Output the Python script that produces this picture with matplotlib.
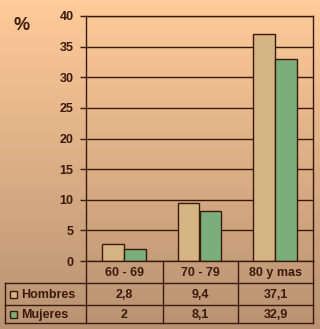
import numpy as np
import matplotlib.pyplot as plt
from matplotlib.patches import Rectangle

categories = ['60 - 69', '70 - 79', '80 y mas']
series_names = ['Hombres', 'Mujeres']
hombres = [2.8, 9.4, 37.1]
mujeres = [2.0, 8.1, 32.9]
yticks = [0, 5, 10, 15, 20, 25, 30, 35, 40]

colors = ['#D6B584', '#7BAE7A']
dark = '#3A1A0C'
W, H = 320, 329

plt.rcParams['font.family'] = ['Liberation Sans', 'DejaVu Sans']
fig = plt.figure(figsize=(W / 100, H / 100), dpi=100)

# gradient background
bg = fig.add_axes([0, 0, 1, 1])
top = np.array([0xFF, 0xCB, 0x99]) / 255
bot = np.array([0xB8, 0x92, 0x72]) / 255
t = np.linspace(0, 1, 256)[:, None]
grad = (top[None, :] * (1 - t) + bot[None, :] * t)[:, None, :]
bg.imshow(grad, aspect='auto', extent=[0, 1, 0, 1])
bg.set_axis_off()

# plot area in pixels
L, R, T, B = 86, 313, 16, 261
ax = fig.add_axes([L / W, (H - B) / H, (R - L) / W, (B - T) / H])
ax.set_facecolor('none')
x = np.arange(len(categories))
bw = 0.29
ax.bar(x - bw / 2, hombres, bw, color=colors[0], edgecolor=dark, linewidth=1, zorder=3)
ax.bar(x + bw / 2, mujeres, bw, color=colors[1], edgecolor=dark, linewidth=1, zorder=3)
ax.set_xlim(-0.5, len(categories) - 0.5)
ax.set_ylim(0, 40)
ax.set_yticks(yticks)
ax.set_yticklabels([str(v) for v in yticks], fontsize=9, fontweight='bold', color=dark)
ax.tick_params(axis='y', length=4, width=1, color=dark, pad=5)
ax.set_xticks([])
ax.yaxis.grid(True, color=dark, linewidth=1, zorder=1)
for s in ['left', 'right', 'top']:
    ax.spines[s].set_color(dark)
    ax.spines[s].set_linewidth(1)
ax.spines['bottom'].set_visible(False)

# overlay in pixel coordinates for the data table
ov = fig.add_axes([0, 0, 1, 1])
ov.set_xlim(0, W)
ov.set_ylim(H, 0)
ov.set_axis_off()
ov.patch.set_visible(False)

cols = [L, 163, 238, R]
rows = [B, 283, 305, 323]
lw = 1
ov.plot([L, R], [rows[0], rows[0]], color=dark, lw=lw)
for yy in rows[1:]:
    ov.plot([5, R], [yy, yy], color=dark, lw=lw)
for xx in cols:
    ov.plot([xx, xx], [rows[0], rows[3]], color=dark, lw=lw)
ov.plot([5, 5], [rows[1], rows[3]], color=dark, lw=lw)

for i, c in enumerate(categories):
    cx = (cols[i] + cols[i + 1]) / 2
    ov.text(cx, (rows[0] + rows[1]) / 2 + 1, c, ha='center', va='center',
            fontsize=9, fontweight='bold', color=dark)
for r, (name, vals) in enumerate(zip(series_names, [hombres, mujeres])):
    cy = (rows[r + 1] + rows[r + 2]) / 2 + 1
    ov.add_patch(Rectangle((10, cy - 4), 7, 7, facecolor=colors[r], edgecolor=dark, lw=1))
    ov.text(21, cy, name, ha='left', va='center', fontsize=9, fontweight='bold', color=dark)
    for i, v in enumerate(vals):
        cx = (cols[i] + cols[i + 1]) / 2
        lab = ('%g' % v).replace('.', ',')
        ov.text(cx, cy, lab, ha='center', va='center', fontsize=9, fontweight='bold', color=dark)

ov.text(22, 26, '%', ha='center', va='center', fontsize=13, fontweight='bold', color=dark)

fig.savefig('out.png', dpi=100)
